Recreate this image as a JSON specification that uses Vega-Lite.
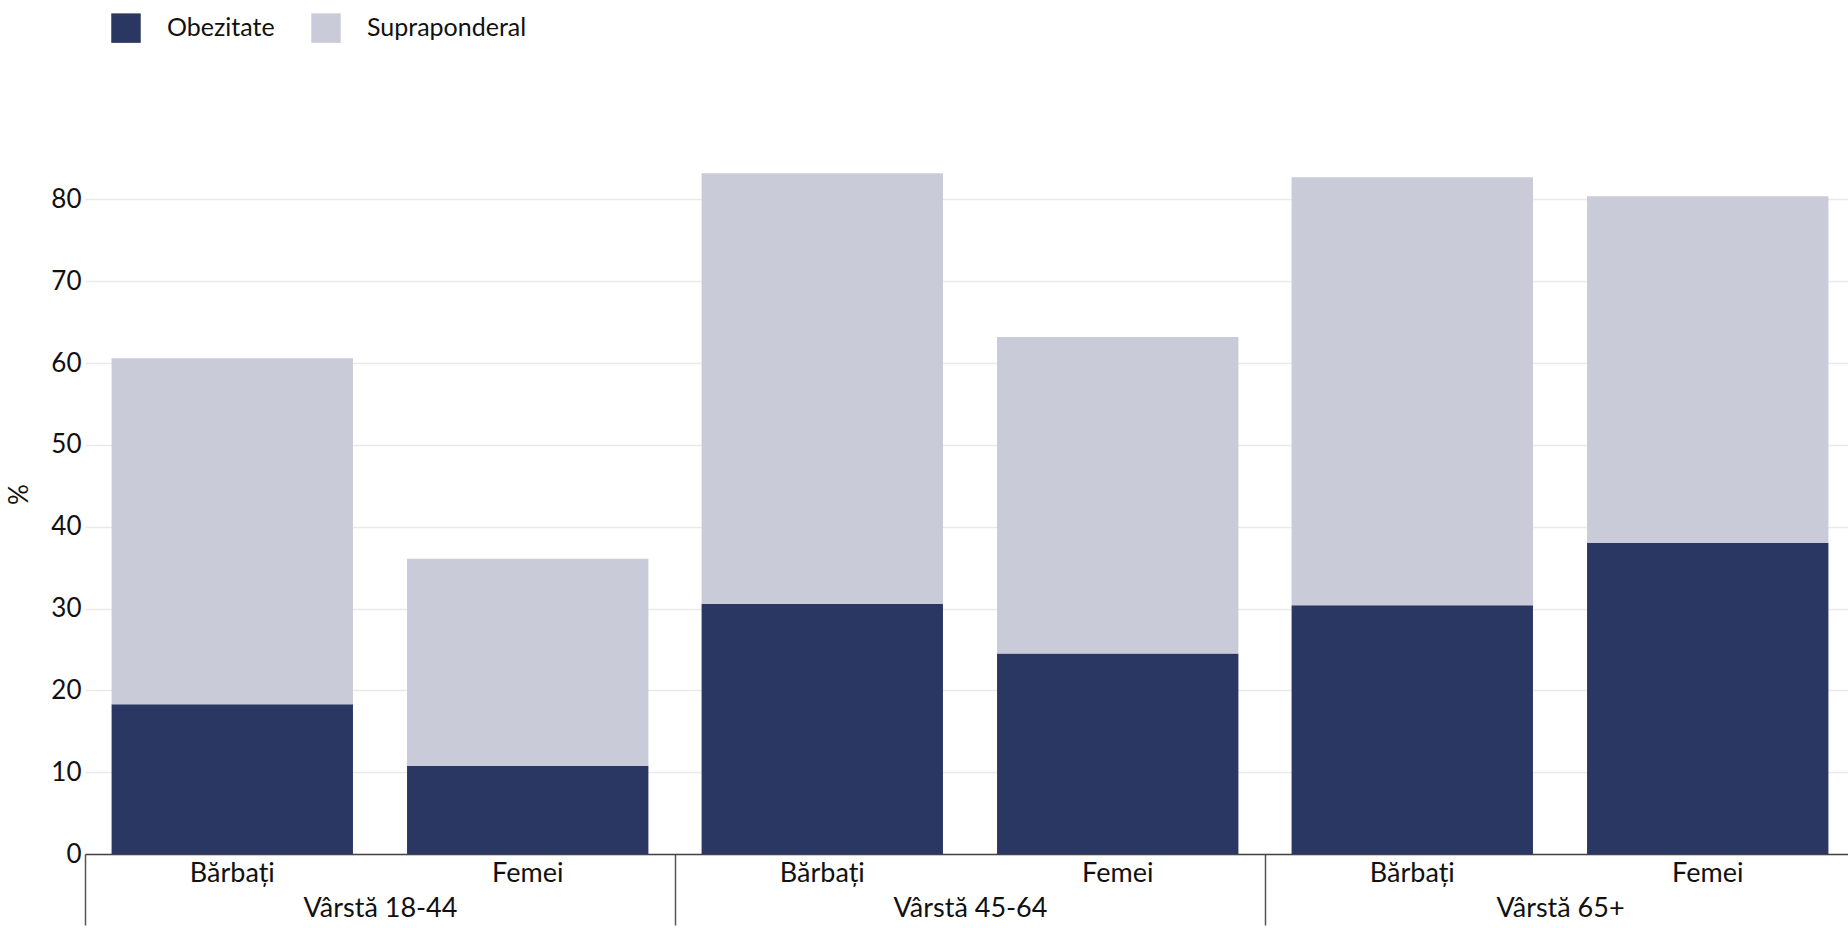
{
  "$schema": "https://vega.github.io/schema/vega-lite/v6.json",
  "width": 1770,
  "height": 720,
  "autosize": {"type": "none"},
  "padding": {"left": 85, "top": 134, "right": -7, "bottom": 74},
  "background": "white",
  "config": {
    "font": "Lato",
    "view": {"stroke": null},
    "text": {"font": "Lato"}
  },
  "data": {
    "values": [
      {"grupa": "Vârstă 18-44", "sex": "Bărbați", "tip": "Obezitate", "valoare": 18.3},
      {"grupa": "Vârstă 18-44", "sex": "Bărbați", "tip": "Supraponderal", "valoare": 42.3},
      {"grupa": "Vârstă 18-44", "sex": "Femei", "tip": "Obezitate", "valoare": 10.8},
      {"grupa": "Vârstă 18-44", "sex": "Femei", "tip": "Supraponderal", "valoare": 25.3},
      {"grupa": "Vârstă 45-64", "sex": "Bărbați", "tip": "Obezitate", "valoare": 30.6},
      {"grupa": "Vârstă 45-64", "sex": "Bărbați", "tip": "Supraponderal", "valoare": 52.6},
      {"grupa": "Vârstă 45-64", "sex": "Femei", "tip": "Obezitate", "valoare": 24.5},
      {"grupa": "Vârstă 45-64", "sex": "Femei", "tip": "Supraponderal", "valoare": 38.7},
      {"grupa": "Vârstă 65+", "sex": "Bărbați", "tip": "Obezitate", "valoare": 30.4},
      {"grupa": "Vârstă 65+", "sex": "Bărbați", "tip": "Supraponderal", "valoare": 52.3},
      {"grupa": "Vârstă 65+", "sex": "Femei", "tip": "Obezitate", "valoare": 38.0},
      {"grupa": "Vârstă 65+", "sex": "Femei", "tip": "Supraponderal", "valoare": 42.4}
    ]
  },
  "layer": [
    {
      "transform": [
        {"stack": "valoare", "groupby": ["grupa", "sex"], "sort": [{"field": "tip", "order": "ascending"}], "as": ["v0", "v1"]}
      ],
      "mark": {"type": "bar"},
      "encoding": {
        "x": {
          "field": "grupa", "type": "nominal",
          "sort": ["Vârstă 18-44", "Vârstă 45-64", "Vârstă 65+"],
          "scale": {"paddingInner": 0, "paddingOuter": 0},
          "axis": {
            "title": null, "labelAngle": 0, "grid": false,
            "tickBand": "extent", "tickSize": 71, "tickColor": "#555", "tickWidth": 1.5,
            "domainColor": "#444", "domainWidth": 1.5,
            "labelPadding": -30, "labelFontSize": 27, "labelColor": "#111", "labelFont": "Lato"
          }
        },
        "xOffset": {
          "field": "sex", "type": "nominal", "sort": ["Bărbați", "Femei"],
          "scale": {"paddingInner": 0.183, "paddingOuter": 0.09}
        },
        "y": {
          "field": "v1", "type": "quantitative",
          "scale": {"domain": [0, 88], "nice": false},
          "axis": {
            "title": "%", "titleFontSize": 26, "titleFontWeight": "normal", "titleColor": "#111", "titleFont": "Lato",
            "titlePadding": 18,
            "values": [0, 10, 20, 30, 40, 50, 60, 70, 80],
            "labelFontSize": 26, "labelColor": "#111", "labelPadding": 4, "labelFont": "Lato",
            "ticks": false, "domain": false,
            "gridColor": "#e9e9e9", "gridWidth": 1.5
          }
        },
        "y2": {"field": "v0"},
        "color": {
          "field": "tip", "type": "nominal",
          "scale": {"domain": ["Obezitate", "Supraponderal"], "range": ["#2a3763", "#c9ccd8"]},
          "legend": {
            "title": null, "orient": "none", "legendX": 26, "legendY": -121,
            "direction": "horizontal", "symbolType": "square", "symbolSize": 870,
            "symbolStrokeWidth": 0, "labelFontSize": 25, "labelOffset": 26, "columnPadding": 36,
            "labelColor": "#111", "labelFont": "Lato", "padding": 0
          }
        }
      }
    },
    {
      "transform": [{"filter": "datum.tip === 'Obezitate'"}],
      "mark": {"type": "text", "baseline": "middle", "dy": 20, "fontSize": 27, "color": "#111", "font": "Lato"},
      "encoding": {
        "x": {"field": "grupa", "type": "nominal", "sort": ["Vârstă 18-44", "Vârstă 45-64", "Vârstă 65+"]},
        "xOffset": {"field": "sex", "type": "nominal", "sort": ["Bărbați", "Femei"]},
        "y": {"datum": 0, "type": "quantitative"},
        "text": {"field": "sex"}
      }
    }
  ]
}
